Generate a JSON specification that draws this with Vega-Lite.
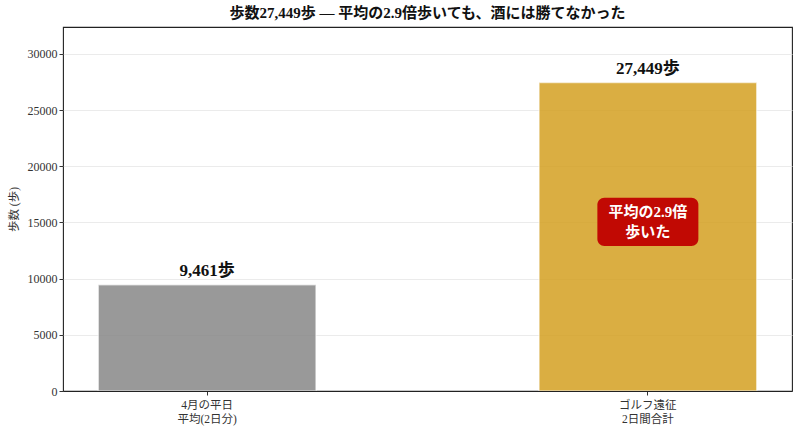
{
  "$schema": "https://vega.github.io/schema/vega-lite/v6.json",
  "width": 729,
  "height": 364,
  "autosize": "none",
  "padding": {"left": 63, "top": 27, "right": 8, "bottom": 42},
  "title": {
    "text": "歩数27,449歩 — 平均の2.9倍歩いても、酒には勝てなかった",
    "fontSize": 15,
    "fontWeight": "bold",
    "color": "#111",
    "offset": 6
  },
  "data": {
    "values": [
      {"group": "4月の平日|平均(2日分)", "steps": 9461, "label": "9,461歩", "kind": "avg"},
      {"group": "ゴルフ遠征|2日間合計", "steps": 27449, "label": "27,449歩", "kind": "golf"}
    ]
  },
  "encoding": {
    "x": {
      "field": "group",
      "type": "nominal",
      "sort": null,
      "scale": {"paddingInner": 0.506, "paddingOuter": 0.08},
      "axis": {
        "title": null,
        "labelAngle": 0,
        "labelExpr": "split(datum.label, '|')",
        "labelFontSize": 11.5,
        "labelColor": "#333",
        "labelLineHeight": 14,
        "tickColor": "#333",
        "tickSize": 4,
        "domain": true,
        "domainColor": "#222",
        "domainWidth": 1.1,
        "zindex": 1,
        "grid": false,
        "labelPadding": 4
      }
    }
  },
  "layer": [
    {
      "mark": {"type": "bar", "opacity": 0.85, "stroke": "white", "strokeWidth": 1.5, "strokeOpacity": 0.6},
      "encoding": {
        "y": {
          "field": "steps",
          "type": "quantitative",
          "scale": {"domain": [0, 32390], "nice": false},
          "axis": {
            "title": "歩数 (歩)",
            "titleFontSize": 11.5,
            "titleFontWeight": "normal",
            "titleColor": "#333",
            "titlePadding": 8,
            "values": [0, 5000, 10000, 15000, 20000, 25000, 30000],
            "format": "d",
            "labelFontSize": 12,
            "labelColor": "#333",
            "tickColor": "#333",
            "tickSize": 4,
            "domain": false,
            "gridColor": "#e6e6e6",
            "gridWidth": 0.8
          }
        },
        "color": {
          "field": "kind",
          "type": "nominal",
          "scale": {"domain": ["avg", "golf"], "range": ["#888888", "#D4A022"]},
          "legend": null
        }
      }
    },
    {
      "mark": {"type": "text", "baseline": "bottom", "dy": -5, "fontSize": 17, "fontWeight": "bold", "color": "#111"},
      "encoding": {
        "y": {"field": "steps", "type": "quantitative"},
        "text": {"field": "label"}
      }
    },
    {
      "transform": [{"filter": "datum.kind === 'golf'"}],
      "mark": {"type": "bar", "width": 101, "cornerRadius": 7, "color": "#C00000", "opacity": 0.95},
      "encoding": {
        "y": {"datum": 12900},
        "y2": {"datum": 17200}
      }
    },
    {
      "transform": [{"filter": "datum.kind === 'golf'"}],
      "mark": {
        "type": "text",
        "text": ["平均の2.9倍", "歩いた"],
        "fontSize": 15,
        "fontWeight": "bold",
        "color": "white",
        "lineHeight": 20,
        "baseline": "middle",
        "dy": -10
      },
      "encoding": {
        "y": {"datum": 15000}
      }
    }
  ],
  "config": {
    "font": "Liberation Serif, Noto Sans CJK JP",
    "view": {"stroke": "#222", "strokeWidth": 1.1}
  }
}
